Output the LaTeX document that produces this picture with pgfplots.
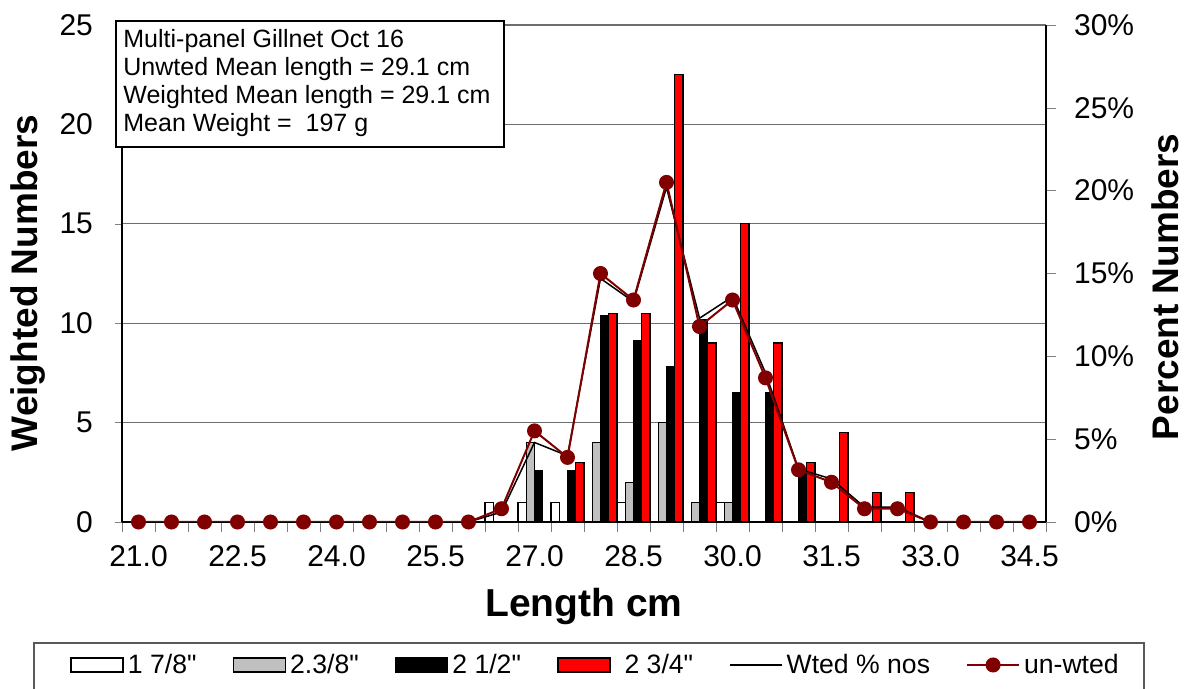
\documentclass[border=0pt]{standalone}
\usepackage{fontspec}
\setmainfont{Liberation Sans}[Ligatures=TeXOff]
\usepackage{pgfplots}
\pgfplotsset{compat=1.18}
\definecolor{dred}{RGB}{128,0,0}
\definecolor{bgray}{RGB}{192,192,192}
\definecolor{gridc}{RGB}{110,110,110}
\begin{document}
\begin{tikzpicture}
\pgfplotsset{
  base/.style={
    width=462pt, height=248.5pt, scale only axis,
    at={(61pt,83.5pt)}, anchor=south west,
    xmin=-0.5, xmax=27.5, enlargelimits=false,
    /pgf/number format/assume math mode=true,
    /pgf/number format/fixed,
    tick label style={font=\fontsize{15}{18}\selectfont},
  }
}
\begin{axis}[base,
  ymin=0, ymax=25, ytick={0,5,...,25},
  axis x line*=bottom, axis y line*=left,
  tick align=outside,
  ymajorgrids, grid style={gridc, line width=0.6pt},
  xtick={0,3,...,27},
  xticklabels={21.0,22.5,24.0,25.5,27.0,28.5,30.0,31.5,33.0,34.5},
  xticklabel style={yshift=-4.5pt},
  yticklabel style={xshift=-7.5pt},
  major x tick style={draw=none},
  minor xtick={-0.5,0.5,...,27.5},
  minor tick length=5pt, major tick length=3.5pt,
  axis line style={black, line width=0.7pt},
  ylabel={Weighted Numbers},
  ylabel style={font=\fontsize{18.5}{22}\selectfont\bfseries, at={(axis description cs:-0.1017,0.481)}, anchor=center},
  xlabel={Length cm},
  xlabel style={font=\fontsize{19.5}{23}\selectfont\bfseries, at={(axis description cs:0.5,-0.17)}, anchor=center},
]
\addplot[ybar, bar width=0.25, bar shift=-0.375, fill=white, draw=black, line width=0.6pt]
  coordinates {(11,1)(12,1)(13,1)(15,1)(18,1)};
\addplot[ybar, bar width=0.25, bar shift=-0.125, fill=bgray, draw=black, line width=0.6pt]
  coordinates {(12,4)(14,4)(15,2)(16,5)(17,1)(18,1)};
\addplot[ybar, bar width=0.25, bar shift=0.125, fill=black, draw=black, line width=0.6pt]
  coordinates {(12,2.6)(13,2.6)(14,10.4)(15,9.1)(16,7.8)(17,10.2)(18,6.5)(19,6.5)(20,2.6)};
\addplot[ybar, bar width=0.25, bar shift=0.375, fill=red, draw=black, line width=0.6pt]
  coordinates {(13,3)(14,10.5)(15,10.5)(16,22.5)(17,9)(18,15)(19,9)(20,3)(21,4.5)(22,1.5)(23,1.5)};
\end{axis}
\begin{axis}[base,
  ymin=0, ymax=30, ytick={0,5,...,30},
  axis y line*=right, axis x line=none,
  tick align=outside, major tick length=5pt,
  axis line style={black, line width=0.7pt},
  yticklabel={\pgfmathprintnumber{\tick}\%},
  yticklabel style={xshift=5.5pt},
  ylabel={Percent Numbers},
  ylabel style={font=\fontsize{18.5}{22}\selectfont\bfseries, at={(axis description cs:1.129,0.473)}, anchor=center},
  legend columns=6,
  legend cell align=left,
  legend style={at={(axis description cs:-0.0563,-0.2877)}, anchor=west, draw=none, fill=none,
    inner sep=0pt, font=\fontsize{13.3}{16}\selectfont,
    /tikz/every even column/.append style={column sep=16pt},
    nodes={inner sep=2pt}},
]
\addlegendimage{legend image code/.code={\draw[fill=white, draw=black, line width=0.8pt] (0pt,-3.5pt) rectangle (26pt,3.5pt);}}
\addlegendentry{1 7/8"}
\addlegendimage{legend image code/.code={\draw[fill=bgray, draw=black, line width=0.8pt] (0pt,-3.5pt) rectangle (26pt,3.5pt);}}
\addlegendentry{2.3/8"}
\addlegendimage{legend image code/.code={\draw[fill=black, draw=black, line width=0.8pt] (0pt,-3.5pt) rectangle (26pt,3.5pt);}}
\addlegendentry{2 1/2"}
\addlegendimage{legend image code/.code={\draw[fill=red, draw=black, line width=0.8pt] (0pt,-3.5pt) rectangle (26pt,3.5pt);}}
\addlegendentry{\hspace{5pt}2 3/4"}
\addplot[black, line width=0.75pt, mark=none,
  legend image code/.code={\draw[black, line width=0.75pt] (0pt,0pt) -- (26pt,0pt);}]
  coordinates {(0,0)(1,0)(2,0)(3,0)(4,0)(5,0)(6,0)(7,0)(8,0)(9,0)(10,0)
  (11,0.6)(12,4.8)(13,4.0)(14,14.7)(15,13.3)(16,20.2)(17,12.3)(18,13.6)(19,9.0)
  (20,3.2)(21,2.6)(22,0.9)(23,0.9)(24,0)(25,0)(26,0)(27,0)};
\addlegendentry{Wted \% nos}
\addplot[dred, line width=1pt, mark=*, mark size=3.25pt, mark options={fill=dred, draw=dred},
  legend image code/.code={\draw[dred, line width=1pt] (0pt,0pt) -- (26pt,0pt); \fill[dred] (13pt,0pt) circle (3.25pt);}]
  coordinates {(0,0)(1,0)(2,0)(3,0)(4,0)(5,0)(6,0)(7,0)(8,0)(9,0)(10,0)
  (11,0.8)(12,5.5)(13,3.9)(14,15.0)(15,13.4)(16,20.5)(17,11.8)(18,13.4)(19,8.7)
  (20,3.15)(21,2.4)(22,0.8)(23,0.8)(24,0)(25,0)(26,0)(27,0)};
\addlegendentry{un-wted}
\end{axis}
\draw[black, line width=0.7pt, fill=white] (58pt,271pt) rectangle (252pt,334pt);
\node[anchor=north west, align=left, font=\fontsize{12.5}{14}\selectfont, inner sep=0pt] at (61.5pt,330pt)
  {Multi-panel Gillnet Oct 16\\Unwted Mean length = 29.1 cm\\Weighted Mean length = 29.1 cm\\Mean Weight = \ 197 g};
\draw[black!65, line width=0.8pt] (17pt,-10pt) rectangle (572pt,23pt);
\pgfresetboundingbox
\useasboundingbox (0pt,0pt) rectangle (594pt,344.5pt);
\end{tikzpicture}
\end{document}
